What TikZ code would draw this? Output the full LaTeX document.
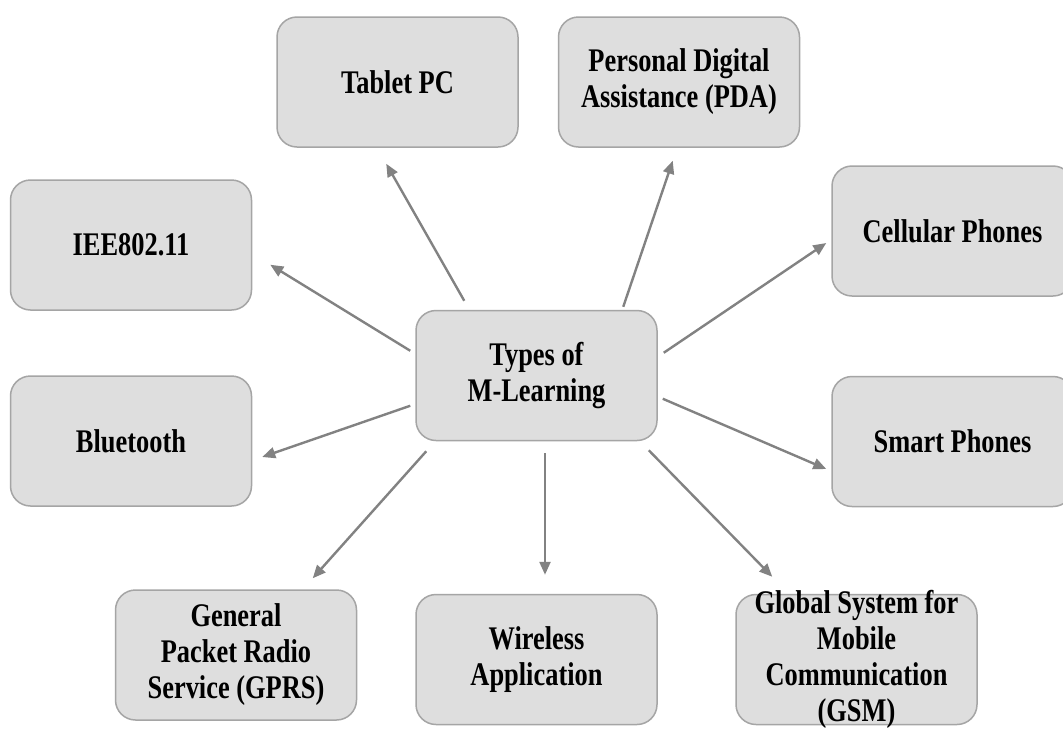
\documentclass[tikz,border=0pt]{standalone}
\usepackage{fontspec}
\setmainfont{Liberation Serif}[FakeStretch=0.8]
\usetikzlibrary{arrows.meta}
\definecolor{boxfill}{RGB}{222,222,222}
\definecolor{boxline}{RGB}{165,165,165}
\definecolor{arrcol}{RGB}{130,130,130}
\begin{document}
\begin{tikzpicture}[x=1pt,y=-1pt,
  box/.style={draw=boxline, fill=boxfill, line width=1.5pt, rounded corners=20pt,
    minimum width=241pt, minimum height=130pt, inner sep=0pt},
  txt/.style={font=\bfseries\fontsize{33}{36}\selectfont, align=center, text=black, inner sep=0pt},
  arr/.style={draw=arrcol, line width=2.4pt, -{Triangle[length=13pt,width=11pt]}}]
\clip (0,0) rectangle (1063,729);
\fill[white] (0,0) rectangle (1063,729);
% nodes
\node[box, label={[txt]center:Types of\\M-Learning}] (c) at (536.5,375.5) {};
\node[box, label={[txt]center:Tablet PC}] (tab) at (397.5,82) {};
\node[box, label={[txt]center:Personal Digital\\Assistance (PDA)}] (pda) at (679,82) {};
\node[box, label={[txt]center:IEE802.11}] (iee) at (131,245) {};
\node[box, label={[txt]center:Cellular Phones}] (cell) at (952.5,231) {};
\node[box, label={[txt]center:Bluetooth}] (blue) at (131,441) {};
\node[box, label={[txt]center:Smart Phones}] (smart) at (952.5,441.5) {};
\node[box, label={[txt]center:General\\Packet Radio\\Service (GPRS)}] (gprs) at (236,655) {};
\node[box, label={[txt]center:Wireless\\Application}] (wire) at (536.5,659.5) {};
\node[box, label={[txt]center:Global System for\\Mobile\\Communication\\(GSM)}] (gsm) at (856.5,659.5) {};
% connectors
\draw[arr] ([shift={(49,-9)}]c.north west) -- ([shift={(110,16)}]tab.south west);
\draw[arr] ([shift={(208,-3)}]c.north west) -- ([shift={(115,13)}]pda.south west);
\draw[arr] ([shift={(-5,41)}]c.north west) -- ([shift={(18,-46)}]iee.south east);
\draw[arr] ([shift={(6,43)}]c.north east) -- ([shift={(-5,12)}]cell.west);
\draw[arr] ([shift={(5,89)}]c.north east) -- ([shift={(-5,27.5)}]smart.west);
\draw[arr] ([shift={(-5,96)}]c.north west) -- ([shift={(10,16)}]blue.east);
\draw[arr] ([shift={(11,10)}]c.south west) -- ([shift={(198,-11)}]gprs.north west);
\draw[arr] ([shift={(8.5,12)}]c.south) -- ([shift={(8.5,-19)}]wire.north);
\draw[arr] ([shift={(-9,9)}]c.south east) -- ([shift={(37,-17)}]gsm.north west);
\end{tikzpicture}
\end{document}
